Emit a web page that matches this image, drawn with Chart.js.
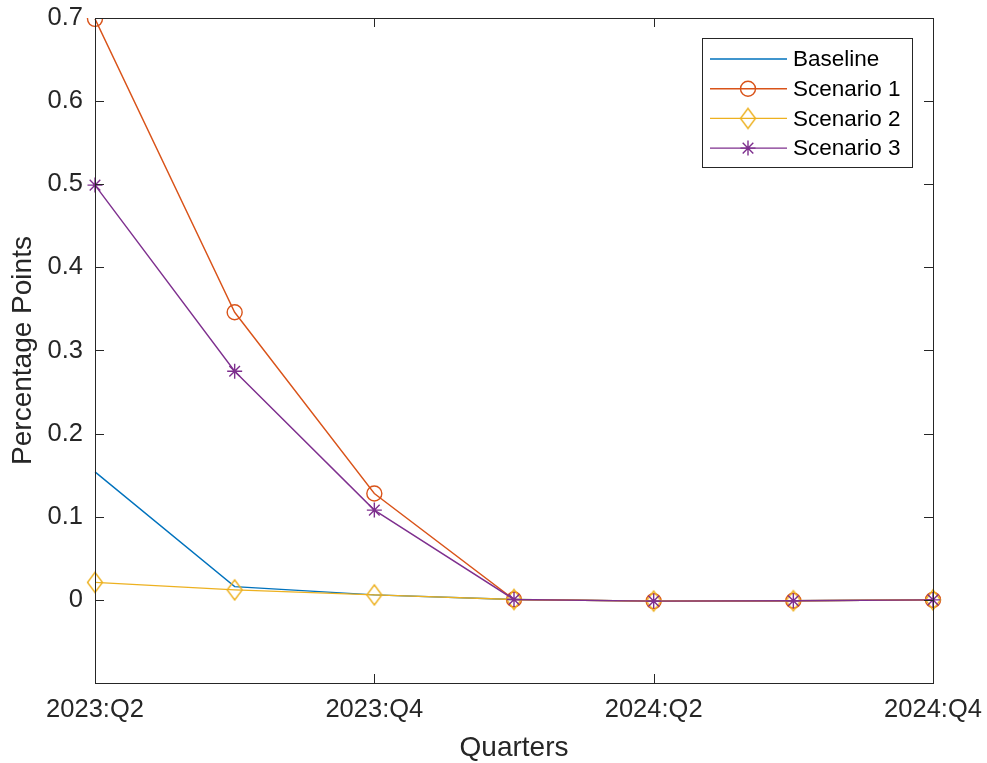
<!DOCTYPE html>
<html>
<head>
<meta charset="utf-8">
<script src="https://cdn.jsdelivr.net/npm/chart.js@4"></script>
<style>
  html, body { margin: 0; padding: 0; background: #fff; }
  #wrap { width: 987px; height: 763px; }
</style>
</head>
<body>
<div id="wrap"><canvas id="chart"></canvas></div>
<script>
const quarters = ['2023:Q2', '2023:Q3', '2023:Q4', '2024:Q1', '2024:Q2', '2024:Q3', '2024:Q4'];
const baseline  = [0.154, 0.016, 0.006, 0.0005, -0.0015, -0.001, 0];
const scenario1 = [0.699, 0.346, 0.128, 0.0005, -0.0015, -0.001, 0];
const scenario2 = [0.021, 0.012, 0.006, 0.0005, -0.0015, -0.001, 0];
const scenario3 = [0.499, 0.275, 0.108, 0.0005, -0.0015, -0.001, 0];
const yTicks = [0, 0.1, 0.2, 0.3, 0.4, 0.5, 0.6, 0.7];

const axisColor = '#262626';
const fontFamily = '"Liberation Sans", Arial, Helvetica, sans-serif';

// MATLAB-style diamond (taller than wide)
function makeDiamond(color) {
    const c = document.createElement('canvas');
    c.width = 20; c.height = 26;
    const g = c.getContext('2d');
    g.strokeStyle = color;
    g.lineWidth = 1.4;
    g.beginPath();
    g.moveTo(10, 3);
    g.lineTo(17.5, 13);
    g.lineTo(10, 23);
    g.lineTo(2.5, 13);
    g.closePath();
    g.stroke();
    return c;
}

const series = [
    { label: 'Baseline',   data: baseline,  color: '#0072BD', style: false,   radius: 0 },
    { label: 'Scenario 1', data: scenario1, color: '#D95319', style: 'circle', radius: 7.5 },
    { label: 'Scenario 2', data: scenario2, color: '#EDB120', style: makeDiamond('#EDB120'), radius: 10 },
    { label: 'Scenario 3', data: scenario3, color: '#7E2F8E', style: 'star',   radius: 7.5 }
];

// frame, inward ticks and the legend box
const matlabAxes = {
    id: 'matlabAxes',
    afterDraw(chart) {
        const { ctx, chartArea: a, scales: { x, y } } = chart;
        const tl = 9;
        ctx.save();
        ctx.strokeStyle = axisColor;
        ctx.lineWidth = 1;
        ctx.strokeRect(Math.round(a.left) + 0.5, Math.round(a.top) + 0.5,
            Math.round(a.right - a.left), Math.round(a.bottom - a.top));
        ctx.beginPath();
        quarters.forEach((q, i) => {
            if (i % 2) return;
            const px = Math.round(x.getPixelForValue(i)) + 0.5;
            ctx.moveTo(px, a.bottom); ctx.lineTo(px, a.bottom - tl);
            ctx.moveTo(px, a.top); ctx.lineTo(px, a.top + tl);
        });
        yTicks.forEach(v => {
            const py = Math.round(y.getPixelForValue(v)) + 0.5;
            ctx.moveTo(a.left, py); ctx.lineTo(a.left + tl, py);
            ctx.moveTo(a.right, py); ctx.lineTo(a.right - tl, py);
        });
        ctx.stroke();

        // legend
        const bx = 702.5, by = 38.5, bw = 210, bh = 129;
        ctx.fillStyle = '#fff';
        ctx.fillRect(bx, by, bw, bh);
        ctx.strokeRect(bx, by, bw, bh);
        ctx.font = '22.5px ' + fontFamily;
        ctx.textBaseline = 'middle';
        ctx.textAlign = 'left';
        series.forEach((s, i) => {
            const ry = 59 + i * 29.7;
            ctx.strokeStyle = s.color;
            ctx.lineWidth = 1.4;
            ctx.beginPath();
            ctx.moveTo(710, ry); ctx.lineTo(787, ry);
            ctx.stroke();
            if (s.style) {
                ctx.fillStyle = 'rgba(0,0,0,0)';
                Chart.helpers.drawPoint(ctx, {
                    pointStyle: s.style, radius: s.radius, rotation: 0, borderWidth: 1.4
                }, 748, ry);
            }
            ctx.fillStyle = '#000';
            ctx.fillText(s.label, 793, ry + 1);
        });
        ctx.restore();
    }
};

new Chart(document.getElementById('chart'), {
    type: 'line',
    data: {
        labels: quarters,
        datasets: series.map((s, i) => ({
            label: s.label,
            data: s.data,
            borderColor: s.color,
            backgroundColor: 'rgba(0,0,0,0)',
            borderWidth: 1.4,
            tension: 0,
            pointStyle: s.style,
            pointRadius: s.radius,
            pointHoverRadius: s.radius,
            pointBorderWidth: 1.4,
            pointBorderColor: s.color,
            pointBackgroundColor: 'rgba(0,0,0,0)',
            order: series.length - i
        }))
    },
    plugins: [matlabAxes],
    options: {
        responsive: true,
        maintainAspectRatio: false,
        animation: false,
        layout: { padding: { left: 0, right: 54, top: 18, bottom: 0 } },
        plugins: {
            legend: { display: false },
            tooltip: { enabled: false }
        },
        scales: {
            x: {
                type: 'category',
                offset: false,
                grid: { display: false, drawTicks: false },
                border: { display: false },
                ticks: {
                    autoSkip: false,
                    maxRotation: 0,
                    padding: 12,
                    color: axisColor,
                    font: { family: fontFamily, size: 25.5 },
                    callback: (v, i) => (i % 2 === 0 ? quarters[i] : '')
                },
                title: {
                    display: true,
                    text: 'Quarters',
                    color: axisColor,
                    font: { family: fontFamily, size: 28, lineHeight: 1 },
                    padding: { top: 0, bottom: 1 }
                },
                afterFit: s => {
                    s.height = 80;
                    s.paddingLeft = 0; s.paddingRight = 0;
                }
            },
            y: {
                min: -0.1,
                max: 0.7,
                grid: { display: false, drawTicks: false },
                border: { display: false },
                afterBuildTicks: s => { s.ticks = yTicks.map(v => ({ value: v })); },
                ticks: {
                    padding: 12,
                    color: axisColor,
                    font: { family: fontFamily, size: 25.5 },
                    callback: v => String(Math.round(v * 10) / 10)
                },
                title: {
                    display: true,
                    text: 'Percentage Points',
                    color: axisColor,
                    font: { family: fontFamily, size: 28, lineHeight: 1 },
                    padding: { top: 9, bottom: 0 }
                },
                afterFit: s => {
                    s.width = 95;
                    s.paddingTop = 0; s.paddingBottom = 0;
                }
            }
        }
    }
});
</script>
</body>
</html>
